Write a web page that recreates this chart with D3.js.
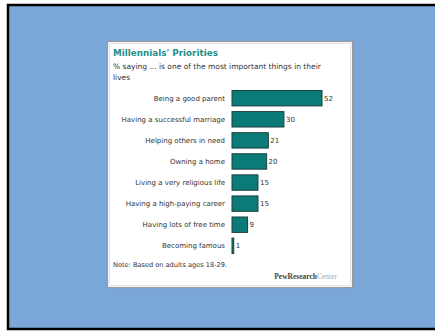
<!DOCTYPE html>
<html>
<head>
<meta charset="utf-8">
<script src="https://cdn.jsdelivr.net/npm/d3@7"></script>
<style>
  html, body { margin: 0; padding: 0; background: #ffffff; }
  svg { display: block; }
</style>
</head>
<body>
<script>
// Survey items and the share of millennials naming each one
const categories = [
  "Being a good parent",
  "Having a successful marriage",
  "Helping others in need",
  "Owning a home",
  "Living a very religious life",
  "Having a high-paying career",
  "Having lots of free time",
  "Becoming famous"
];
const values = [52, 30, 21, 20, 15, 15, 9, 1];

const titleText = "Millennials' Priorities";
const subtitleLines = ["% saying ... is one of the most important things in their", "lives"];
const noteText = "Note: Based on adults ages 18-29.";

const W = 435, H = 331;
const svg = d3.select("body").append("svg").attr("width", W).attr("height", H);

// Slide background with black frame
svg.append("rect").attr("x", 0).attr("y", 0).attr("width", W).attr("height", H).attr("fill", "#ffffff");
svg.append("rect").attr("x", 8).attr("y", 5).attr("width", W + 20).attr("height", 324)
  .attr("fill", "#7ba6d8").attr("stroke", "#000").attr("stroke-width", 2.5);

// White chart card
svg.append("rect").attr("x", 107.5).attr("y", 41.5).attr("width", 245).attr("height", 246)
  .attr("fill", "#ffffff").attr("stroke", "#9a9a9a").attr("stroke-width", 1.2);
svg.append("rect").attr("x", 109.5).attr("y", 43.5).attr("width", 241).attr("height", 242)
  .attr("fill", "none").attr("stroke", "#e4e4e4").attr("stroke-width", 1);

const font = "'DejaVu Sans', Verdana, sans-serif";

svg.append("text").attr("x", 113).attr("y", 56)
  .attr("font-family", font).attr("font-size", 8.8).attr("font-weight", "bold")
  .attr("fill", "#1f8f8c").text(titleText);

subtitleLines.forEach((t, i) => {
  svg.append("text").attr("x", 113).attr("y", 69 + i * 10.5)
    .attr("font-family", font).attr("font-size", 7.5)
    .attr("fill", "#333").text(t);
});

// Horizontal bar chart
const x0 = 232;
const x = d3.scaleLinear().domain([0, 52]).range([x0, 322]);
const y = d3.scaleBand().domain(categories).range([88, 256]).paddingInner(0.27).paddingOuter(0.12);

const rows = svg.append("g").selectAll("g").data(categories).join("g");

rows.append("rect")
  .attr("x", x0)
  .attr("y", d => y(d))
  .attr("width", (d, i) => x(values[i]) - x0)
  .attr("height", y.bandwidth())
  .attr("fill", "#0b7b78")
  .attr("stroke", "#1d3f3f").attr("stroke-width", 1);

rows.append("text")
  .attr("x", 225)
  .attr("y", d => y(d) + y.bandwidth() / 2 + 2.6)
  .attr("text-anchor", "end")
  .attr("font-family", font).attr("font-size", 7)
  .attr("fill", "#333")
  .text(d => d);

rows.append("text")
  .attr("x", (d, i) => x(values[i]) + 2)
  .attr("y", d => y(d) + y.bandwidth() / 2 + 2.6)
  .attr("font-family", font).attr("font-size", 7)
  .attr("fill", "#333")
  .text((d, i) => values[i]);

svg.append("text").attr("x", 113).attr("y", 267)
  .attr("font-family", font).attr("font-size", 6.6)
  .attr("fill", "#333").text(noteText);

const logo = svg.append("text").attr("x", 337).attr("y", 279).attr("text-anchor", "end")
  .attr("font-family", "'Liberation Serif', 'Times New Roman', serif").attr("font-size", 7.5);
logo.append("tspan").attr("font-weight", "bold").attr("fill", "#444").text("PewResearch");
logo.append("tspan").attr("fill", "#aaa").text("Center");
</script>
</body>
</html>
